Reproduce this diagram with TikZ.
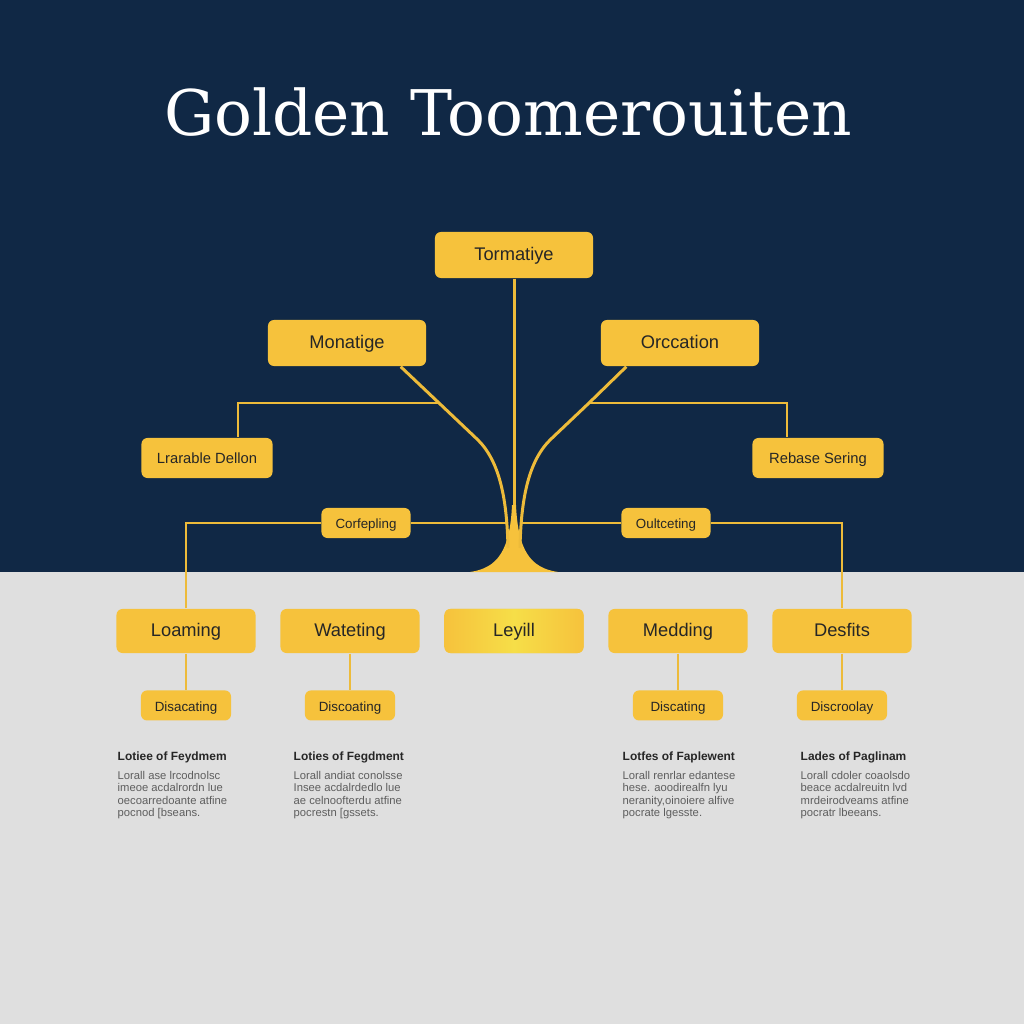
\documentclass[tikz,border=0pt]{standalone}
\usepackage{fontspec}
\setsansfont{Liberation Sans}
\newfontfamily\titlefont{DejaVu Serif}
\usepackage{tikz}
\usetikzlibrary{positioning,shapes}

\definecolor{navy}{HTML}{102845}
\definecolor{paper}{HTML}{DFDFDF}
\definecolor{gold}{HTML}{F6C23C}
\definecolor{goldline}{HTML}{EDBB3A}
\definecolor{lemon}{HTML}{F6DE48}
\definecolor{ink}{HTML}{262626}
\definecolor{notegray}{HTML}{5E5E5E}

\tikzset{
  goldbox/.style = {rectangle, rounded corners=0.06cm, fill=gold, text=ink, inner sep=0pt,
                    text height=1.3ex, text depth=0.55ex,
                    font=\sffamily\fontsize{5.2}{6}\selectfont},
  topbox/.style = {goldbox, minimum width=1.58cm, minimum height=0.46cm},
  sidebox/.style = {goldbox, minimum width=1.31cm, minimum height=0.40cm,
                    font=\sffamily\fontsize{4.2}{5}\selectfont},
  midbox/.style = {goldbox, minimum width=0.89cm, minimum height=0.30cm,
                   font=\sffamily\fontsize{3.8}{4.5}\selectfont},
  rowbox/.style = {goldbox, minimum width=1.39cm, minimum height=0.44cm},
  leyillbox/.style = {rowbox, left color=gold, right color=gold, middle color=lemon},
  subbox/.style = {midbox, minimum width=0.90cm},
  notes/.style = {anchor=north west, inner sep=0pt, align=left, text=notegray,
                  font=\sffamily\fontsize{3.2}{3.55}\selectfont},
  branch/.style = {draw=goldline, line width=0.55pt},
  stem/.style = {draw=goldline, line width=0.85pt}
}

\begin{document}
\begin{tikzpicture}[x=0.01cm, y=-0.01cm]
  \useasboundingbox (0,0) rectangle (1024,1024);
  \fill[navy] (0,0) rectangle (1024,572);
  \fill[paper] (0,572) rectangle (1024,1024);

  % title
  \node[anchor=base, text=white, inner sep=0pt, font=\titlefont\fontsize{17.9}{21}\selectfont]
    (title) at (508,135) {Golden Toomerouiten};

  % upper tree
  \node[topbox] (torm) at (514,255) {Tormatiye};
  \node[topbox] (monat) at (347,343) {Monatige};
  \node[topbox] (orcc) at (680,343) {Orccation};
  \node[sidebox] (lrar) at (207,458) {Lrarable Dellon};
  \node[sidebox] (rebase) at (818,458) {Rebase Sering};
  \node[midbox] (corf) at (366,523) {Corfepling};
  \node[midbox] (oult) at (666,523) {Oultceting};

  \coordinate (tip) at (514,505);
  \coordinate (mjoin) at (439,403);
  \coordinate (ojoin) at (589,403);
  \coordinate (cjoinL) at (506,523);
  \coordinate (cjoinR) at (522,523);

  % base of the trunk
  \fill[gold] (470,572) .. controls (498,568) and (510,550) .. (512,505)
    -- (516,505) .. controls (518,550) and (530,568) .. (558,572) -- cycle;

  \draw[stem] (torm.south) -- (tip);
  \draw[stem] ([xshift=-0.26cm]monat.south east) -- (mjoin) -- (478,440)
    .. controls (500,462) and (507,500) .. (508,548);
  \draw[stem] ([xshift=0.26cm]orcc.south west) -- (ojoin) -- (550,440)
    .. controls (528,462) and (521,500) .. (520,548);

  \draw[branch] (mjoin) -| ([xshift=0.31cm]lrar.north);
  \draw[branch] (ojoin) -| ([xshift=-0.31cm]rebase.north);

  % bottom row
  \node[rowbox] (loam) at (186,631) {Loaming};
  \node[rowbox, right=0.235cm of loam] (wate) {Wateting};
  \node[leyillbox, right=0.235cm of wate] (leyill) {Leyill};
  \node[rowbox, right=0.235cm of leyill] (medd) {Medding};
  \node[rowbox, right=0.235cm of medd] (desf) {Desfits};

  \draw[branch] (loam.north) |- (corf.west);
  \draw[branch] (corf.east) -- (cjoinL);
  \draw[branch] (desf.north) |- (oult.east);
  \draw[branch] (oult.west) -- (cjoinR);

  \node[subbox, below=0.36cm of loam] (disac) {Disacating};
  \node[subbox, below=0.36cm of wate] (disco) {Discoating};
  \node[subbox, below=0.36cm of medd] (discat) {Discating};
  \node[subbox, below=0.36cm of desf] (discro) {Discroolay};

  \draw[branch] (loam) -- (disac);
  \draw[branch] (wate) -- (disco);
  \draw[branch] (medd) -- (discat);
  \draw[branch] (desf) -- (discro);

  % notes
  \node[notes] (note1) at (117,751) {{\fontsize{3.4}{4}\selectfont\bfseries\color{ink}Lotiee of Feydmem}\\[1.8pt]
    Lorall ase lrcodnolsc\\ imeoe acdalrordn lue\\ oecoarredoante atfine\\ pocnod [bseans.};
  \node[notes] (note2) at (293,751) {{\fontsize{3.4}{4}\selectfont\bfseries\color{ink}Loties of Fegdment}\\[1.8pt]
    Lorall andiat conolsse\\ Insee acdalrdedlo lue\\ ae celnoofterdu atfine\\ pocrestn [gssets.};
  \node[notes] (note3) at (622,751) {{\fontsize{3.4}{4}\selectfont\bfseries\color{ink}Lotfes of Faplewent}\\[1.8pt]
    Lorall renrlar edantese\\ hese. aoodirealfn lyu\\ neranity,oinoiere alfive\\ pocrate lgesste.};
  \node[notes] (note4) at (800,751) {{\fontsize{3.4}{4}\selectfont\bfseries\color{ink}Lades of Paglinam}\\[1.8pt]
    Lorall cdoler coaolsdo\\ beace acdalreuitn lvd\\ mrdeirodveams atfine\\ pocratr lbeeans.};
\end{tikzpicture}
\end{document}
